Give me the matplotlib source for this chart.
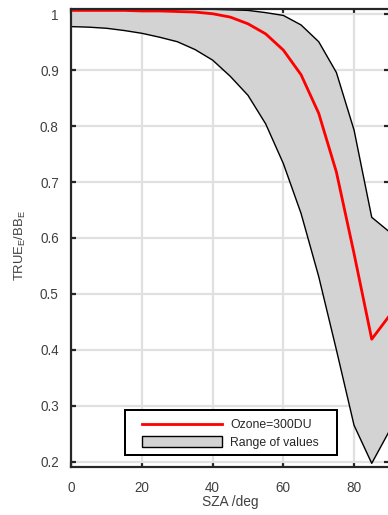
import matplotlib
matplotlib.use("Agg")
import matplotlib.pyplot as plt
from matplotlib.patches import Rectangle
from matplotlib.lines import Line2D

plt.rcParams['font.family'] = ['Liberation Sans', 'DejaVu Sans']
plt.rcParams['mathtext.fontset'] = 'custom'
plt.rcParams['mathtext.rm'] = 'Liberation Sans'

sza = [0, 5, 10, 15, 20, 25, 30, 35, 40, 45, 50, 55, 60, 65, 70, 75, 80, 85, 90]
ozone300 = [1.007, 1.007, 1.007, 1.007, 1.006, 1.006, 1.005, 1.004, 1.001, 0.995,
            0.983, 0.965, 0.936, 0.892, 0.823, 0.718, 0.572, 0.419, 0.461]
upper = [1.009, 1.009, 1.009, 1.009, 1.009, 1.009, 1.009, 1.009, 1.009, 1.008,
         1.007, 1.003, 0.998, 0.981, 0.951, 0.896, 0.793, 0.637, 0.611]
lower = [0.978, 0.977, 0.975, 0.971, 0.966, 0.959, 0.951, 0.937, 0.918, 0.889,
         0.855, 0.804, 0.733, 0.644, 0.531, 0.400, 0.265, 0.197, 0.255]

xticks = [0, 20, 40, 60, 80]
yticks = [0.2, 0.3, 0.4, 0.5, 0.6, 0.7, 0.8, 0.9, 1.0]
ytick_labels = ['0.2', '0.3', '0.4', '0.5', '0.6', '0.7', '0.8', '0.9', '1']
legend_labels = ['Ozone=300DU', 'Range of values']

dark = '#262626'
txt = '#404040'
W, H = 388.0, 515.0
px = 72 / 100.0


def fx(p):
    return p / W


def fy(p):
    return 1 - p / H


fig = plt.figure(figsize=(3.88, 5.15), dpi=100)
ax = fig.add_axes([fx(71.3), fy(466.7), 318.1 / W, 457.7 / H])

ax.fill_between(sza, lower, upper, facecolor='#d3d3d3', edgecolor='none', zorder=2)
ax.plot(sza, upper, color='black', lw=1.4 * px, zorder=3)
ax.plot(sza, lower, color='black', lw=1.4 * px, zorder=3)
ax.plot(sza, ozone300, color='#ff0000', lw=2.8 * px, zorder=4)

ax.set_xlim(0, 90)
ax.set_ylim(0.191, 1.0095)
ax.set_xticks(xticks)
ax.set_xticklabels([str(v) for v in xticks])
ax.set_yticks(yticks)
ax.set_yticklabels(ytick_labels)

ax.grid(True, color='#e0e0e0', lw=2.2 * px, zorder=0)
ax.set_axisbelow(True)
for s in ax.spines.values():
    s.set_linewidth(2.2 * px)
    s.set_color(dark)
    s.set_zorder(6)

ax.tick_params(direction='in', length=5 * px, width=2.2 * px, color=dark,
               top=True, right=True, labelsize=13.5 * px, labelcolor=txt)
ax.tick_params(axis='y', pad=12.5 * px)
ax.tick_params(axis='x', pad=14.5 * px)

ax.set_xlabel('SZA /deg', fontsize=13.8 * px, color=txt, labelpad=0)
fig.text(fx(20), fy(245.3), r'TRUE$_\mathregular{E}$/BB$_\mathregular{E}$',
         fontsize=13 * px, color=txt, rotation=90, ha='center', va='center')

# legend box
fig.patches.append(Rectangle((fx(125), fy(455)), (336.7 - 125) / W, 45 / H,
                             transform=fig.transFigure, facecolor='white',
                             edgecolor='black', lw=2 * px, zorder=10))
fig.lines.append(Line2D([fx(141.7), fx(221.7)], [fy(424), fy(424)],
                        transform=fig.transFigure, color='#ff0000', lw=2.8 * px, zorder=11))
fig.patches.append(Rectangle((fx(141.7), fy(446.7)), 80 / W, 11 / H,
                             transform=fig.transFigure, facecolor='#d3d3d3',
                             edgecolor='black', lw=1.4 * px, zorder=11))
fig.text(fx(230), fy(428.3), legend_labels[0], fontsize=12.2 * px, color=dark,
         ha='left', va='baseline', zorder=12)
fig.text(fx(230), fy(446), legend_labels[1], fontsize=12.2 * px, color=dark,
         ha='left', va='baseline', zorder=12)

fig.savefig('out.png', dpi=100)
